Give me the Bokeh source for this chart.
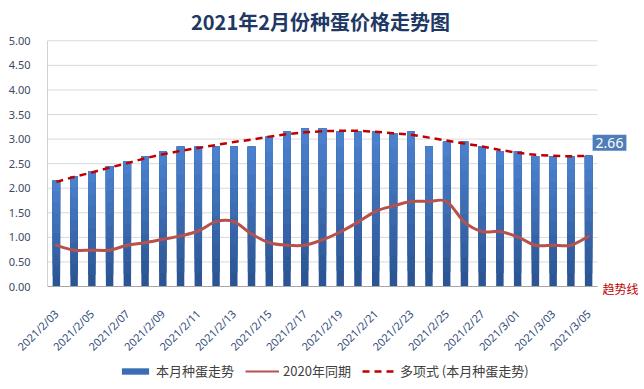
from bokeh.plotting import figure
from bokeh.layouts import column
from bokeh.models import (ColumnDataSource, FixedTicker, Label, Legend, LegendItem,
                          NumeralTickFormatter, Range1d)
from bokeh.embed import file_html
from bokeh.resources import INLINE
import math

# ---------------- data ----------------
dates = ["2021/2/03", "2021/2/04", "2021/2/05", "2021/2/06", "2021/2/07", "2021/2/08",
         "2021/2/09", "2021/2/10", "2021/2/11", "2021/2/12", "2021/2/13", "2021/2/14",
         "2021/2/15", "2021/2/16", "2021/2/17", "2021/2/18", "2021/2/19", "2021/2/20",
         "2021/2/21", "2021/2/22", "2021/2/23", "2021/2/24", "2021/2/25", "2021/2/26",
         "2021/2/27", "2021/2/28", "2021/3/01", "2021/3/02", "2021/3/03", "2021/3/04",
         "2021/3/05"]
price_2021 = [2.15, 2.25, 2.35, 2.45, 2.55, 2.65, 2.75, 2.85, 2.85, 2.85, 2.85, 2.85,
              3.05, 3.15, 3.22, 3.22, 3.15, 3.15, 3.15, 3.12, 3.15, 2.85, 2.95, 2.95,
              2.85, 2.75, 2.75, 2.65, 2.65, 2.65, 2.66]
price_2020 = [0.84, 0.74, 0.74, 0.74, 0.84, 0.89, 0.96, 1.03, 1.13, 1.32, 1.32, 1.07,
              0.89, 0.84, 0.84, 0.95, 1.11, 1.31, 1.53, 1.64, 1.73, 1.73, 1.73, 1.31,
              1.12, 1.12, 1.01, 0.84, 0.84, 0.84, 1.02]
trend = [2.13, 2.23, 2.32, 2.42, 2.51, 2.61, 2.69, 2.76, 2.82, 2.88, 2.94, 2.99, 3.05,
         3.10, 3.14, 3.16, 3.17, 3.17, 3.15, 3.12, 3.09, 3.03, 2.97, 2.91, 2.85, 2.78,
         2.72, 2.68, 2.66, 2.65, 2.66]
y_ticks = [0, 0.5, 1.0, 1.5, 2.0, 2.5, 3.0, 3.5, 4.0, 4.5, 5.0]

title_text = "2021年2月份种蛋价格走势图"
legend_labels = ["本月种蛋走势", "2020年同期", "多项式 (本月种蛋走势)"]
trend_note = "趋势线"

CJK = "Noto Sans CJK SC"
BAR_COLOR = "#3A6DB3"
BAR_BOTTOM = (0x2C, 0x55, 0x94)
BAR_TOP = (0x4A, 0x80, 0xCC)
LINE_COLOR = "#B5524E"
TREND_COLOR = "#C00000"
idx = list(range(len(dates)))
x_lo, x_hi = idx[0] - 0.5, idx[-1] + 0.5

# ---------------- main figure ----------------
p = figure(width=644, height=362, output_backend="svg", toolbar_location=None,
           x_range=Range1d(x_lo, 33.15), y_range=Range1d(-0.203, 5.82),
           min_border_left=47, min_border_right=0, min_border_top=0,
           min_border_bottom=65)
p.outline_line_color = None
p.background_fill_color = "white"
p.border_fill_color = "white"
p.xgrid.grid_line_color = None
p.ygrid.grid_line_color = None

# grid lines and axis lines limited to the data area
gsrc = ColumnDataSource(dict(x0=[x_lo] * (len(y_ticks) - 1), x1=[x_hi] * (len(y_ticks) - 1),
                             y=y_ticks[1:]))
p.segment(x0="x0", y0="y", x1="x1", y1="y", source=gsrc, line_color="#D9D9D9", line_width=1)

p.yaxis.ticker = FixedTicker(ticks=y_ticks)
p.yaxis.formatter = NumeralTickFormatter(format="0.00")
p.yaxis.axis_line_color = None
p.yaxis.major_tick_line_color = None
p.yaxis.minor_tick_line_color = None
p.yaxis.major_label_text_font = "Noto Sans"
p.yaxis.major_label_text_font_size = "11px"
p.yaxis.major_label_text_color = "#3B4A63"
p.yaxis.major_label_standoff = 11

p.xaxis.ticker = FixedTicker(ticks=idx[::2])
p.xaxis.major_label_overrides = {i: dates[i] for i in idx}
p.xaxis.axis_line_color = None
p.xaxis.major_tick_line_color = None
p.xaxis.minor_tick_line_color = None
p.xaxis.major_label_orientation = math.pi / 4
p.xaxis.major_label_text_font = "Noto Sans"
p.xaxis.major_label_text_font_size = "11px"
p.xaxis.major_label_text_color = "#2F4A78"
p.xaxis.major_label_standoff = 9

# bars with a vertical shading: stacked overlays, each reaching the bar top
N = 10
bx, bb, bt, bc = [], [], [], []
for k in range(N):
    f = k / (N - 1)
    col = "#%02x%02x%02x" % tuple(round(BAR_BOTTOM[c] + (BAR_TOP[c] - BAR_BOTTOM[c]) * f)
                                  for c in range(3))
    for i, v in zip(idx, price_2021):
        bx.append(i); bb.append(v * k / N); bt.append(v); bc.append(col)
src = ColumnDataSource(dict(x=bx, bottom=bb, top=bt, color=bc))
p.vbar(x="x", bottom="bottom", top="top", width=0.42, source=src, fill_color="color",
       line_color=None)

# axis lines limited to the data area
p.segment(x0=[x_lo], y0=[y_ticks[0]], x1=[x_hi], y1=[y_ticks[0]], line_color="#A6A6A6",
          line_width=1)
p.segment(x0=[x_lo], y0=[y_ticks[0]], x1=[x_lo], y1=[y_ticks[-1]], line_color="#A6A6A6",
          line_width=1)

# smoothed 2020 line via bezier segments (Catmull-Rom style)
n = len(price_2020)
x0, y0, x1, y1, cx0, cy0, cx1, cy1 = [], [], [], [], [], [], [], []
for i in range(n - 1):
    ip = max(i - 1, 0)
    inx = min(i + 2, n - 1)
    x0.append(idx[i]); y0.append(price_2020[i])
    x1.append(idx[i + 1]); y1.append(price_2020[i + 1])
    cx0.append(idx[i] + (idx[i + 1] - idx[ip]) / 6)
    cy0.append(price_2020[i] + (price_2020[i + 1] - price_2020[ip]) / 6)
    cx1.append(idx[i + 1] - (idx[inx] - idx[i]) / 6)
    cy1.append(price_2020[i + 1] - (price_2020[inx] - price_2020[i]) / 6)
bsrc = ColumnDataSource(dict(x0=x0, y0=y0, x1=x1, y1=y1, cx0=cx0, cy0=cy0, cx1=cx1, cy1=cy1))
p.bezier(x0="x0", y0="y0", x1="x1", y1="y1", cx0="cx0", cy0="cy0", cx1="cx1", cy1="cy1",
         source=bsrc, line_color=LINE_COLOR, line_width=3, line_cap="round")

# trend line
tsrc = ColumnDataSource(dict(x=idx, y=trend))
p.line(x="x", y="y", source=tsrc, line_color=TREND_COLOR, line_width=2.5, line_dash="7 5")

# last value label
p.add_layout(Label(x=idx[-1], y=price_2021[-1], text=f"{price_2021[-1]:.2f}",
                   x_offset=4, y_offset=5, text_align="left", text_baseline="bottom",
                   text_color="white", text_font="Noto Sans", text_font_size="14px",
                   background_fill_color="#4F7DB8", padding=3))
# trend note
p.add_layout(Label(x=idx[-1], y=y_ticks[0], text=trend_note, x_offset=14, y_offset=-2,
                   text_align="left", text_baseline="middle", text_color=TREND_COLOR,
                   text_font=CJK, text_font_size="12px"))
# title
p.add_layout(Label(x=273, y=275, x_units="screen", y_units="screen", text=title_text,
                   text_align="center", text_baseline="middle", text_color="#203864",
                   text_font=CJK, text_font_size="20px", text_font_style="bold"))

# ---------------- legend strip ----------------
# the legend renderers use the chart's own data; their ranges keep them out of view
lg = figure(width=644, height=27, output_backend="svg", toolbar_location=None,
            x_range=Range1d(-3, -2), y_range=Range1d(0, 1),
            x_axis_location=None, y_axis_location=None,
            min_border_left=0, min_border_right=0, min_border_top=0, min_border_bottom=0)
lg.grid.visible = False
lg.outline_line_color = None
lg_bar = lg.vbar(x=idx, top=price_2021, width=0.42, fill_color=BAR_COLOR, line_color=None)
lg_line = lg.line(x=idx, y=price_2020, line_color=LINE_COLOR, line_width=2)
lg_trend = lg.line(x=idx, y=trend, line_color=TREND_COLOR, line_width=2.5, line_dash="7 5")
legend = Legend(items=[LegendItem(label=legend_labels[0], renderers=[lg_bar]),
                       LegendItem(label=legend_labels[1], renderers=[lg_line]),
                       LegendItem(label=legend_labels[2], renderers=[lg_trend])],
                location=(71, 9), orientation="horizontal",
                label_text_font=CJK, label_text_font_size="13px",
                label_text_color="#404040", glyph_width=34, glyph_height=8,
                label_height=16, spacing=11, label_standoff=4, padding=0, margin=0,
                border_line_color=None, background_fill_alpha=0)
lg.add_layout(legend, "center")

open("out.html", "w").write(file_html(column(p, lg, spacing=0), INLINE))
